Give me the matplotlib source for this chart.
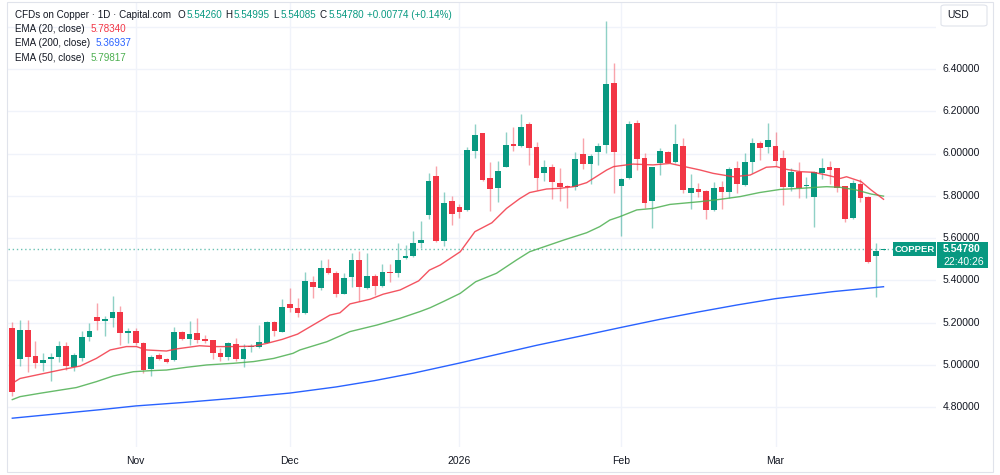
import matplotlib
matplotlib.use("Agg")
import matplotlib.pyplot as plt
from matplotlib.patches import FancyBboxPatch, Rectangle
import numpy as np

# daily candles, CFDs on Copper
opens = [5.172, 5.026, 5.165, 5.041, 5.010, 5.026, 5.035, 5.087, 4.991, 5.032,
         5.133, 5.224, 5.209, 5.220, 5.251, 5.152, 5.160, 5.101, 4.978, 5.045,
         5.027, 5.022, 5.153, 5.124, 5.149, 5.120, 5.116, 5.054, 5.035, 5.098,
         5.027, 5.083, 5.084, 5.104, 5.202, 5.157, 5.286, 5.270, 5.243, 5.392,
         5.363, 5.460, 5.433, 5.335, 5.414, 5.494, 5.362, 5.422, 5.373, 5.439,
         5.433, 5.504, 5.516, 5.578, 5.709, 5.895, 5.587, 5.775, 5.747, 5.733,
         6.013, 6.095, 5.882, 5.835, 5.936, 6.047, 6.037, 6.138, 6.029, 5.906,
         5.938, 5.862, 5.846, 5.843, 5.996, 5.950, 6.005, 6.040, 6.332, 5.848,
         5.886, 6.143, 5.980, 5.777, 5.957, 6.009, 5.958, 6.037, 5.811, 5.830,
         5.822, 5.733, 5.840, 5.819, 5.930, 5.851, 5.958, 6.051, 6.029, 6.037,
         5.977, 5.843, 5.914, 5.846, 5.796, 5.906, 5.935, 5.930, 5.846, 5.695,
         5.856, 5.793, 5.515, 5.5426]
highs = [5.204, 5.212, 5.212, 5.114, 5.054, 5.057, 5.114, 5.106, 5.054, 5.161,
         5.196, 5.291, 5.231, 5.325, 5.278, 5.172, 5.172, 5.109, 5.046, 5.057,
         5.034, 5.177, 5.161, 5.206, 5.223, 5.141, 5.117, 5.078, 5.109, 5.125,
         5.098, 5.097, 5.188, 5.209, 5.207, 5.311, 5.362, 5.314, 5.441, 5.418,
         5.496, 5.499, 5.444, 5.433, 5.527, 5.538, 5.527, 5.430, 5.475, 5.475,
         5.578, 5.567, 5.635, 5.680, 5.909, 5.942, 5.819, 5.799, 5.759, 6.032,
         6.138, 6.095, 5.958, 5.964, 6.100, 6.127, 6.187, 6.150, 6.056, 5.969,
         5.949, 5.930, 5.851, 6.005, 6.072, 5.996, 6.048, 6.627, 6.427, 5.882,
         6.154, 6.157, 6.004, 5.938, 6.024, 6.012, 6.141, 6.072, 5.903, 5.859,
         5.825, 5.867, 5.870, 5.938, 5.964, 6.001, 6.075, 6.061, 6.146, 6.103,
         6.017, 5.930, 5.961, 5.890, 5.917, 5.977, 5.966, 5.930, 5.846, 5.875,
         5.878, 5.799, 5.578, 5.54995]
lows = [4.852, 4.994, 4.967, 4.983, 4.972, 4.925, 5.015, 4.975, 4.972, 5.019,
        5.114, 5.165, 5.136, 5.180, 5.094, 5.101, 5.094, 4.959, 4.947, 5.022,
        5.008, 5.019, 5.117, 5.094, 5.101, 5.101, 5.027, 5.019, 5.022, 5.019,
        4.988, 5.062, 5.081, 5.101, 5.136, 5.155, 5.251, 5.228, 5.242, 5.317,
        5.352, 5.430, 5.322, 5.333, 5.370, 5.303, 5.358, 5.330, 5.370, 5.393,
        5.417, 5.499, 5.512, 5.551, 5.688, 5.579, 5.564, 5.662, 5.693, 5.729,
        5.980, 5.870, 5.729, 5.769, 5.934, 6.013, 6.032, 5.946, 5.827, 5.871,
        5.783, 5.777, 5.740, 5.827, 5.927, 5.854, 5.946, 6.001, 5.811, 5.611,
        5.879, 5.922, 5.744, 5.646, 5.898, 5.953, 5.953, 5.811, 5.736, 5.796,
        5.688, 5.729, 5.736, 5.788, 5.815, 5.848, 5.906, 5.969, 6.001, 5.941,
        5.756, 5.822, 5.788, 5.791, 5.654, 5.878, 5.856, 5.819, 5.677, 5.690,
        5.769, 5.483, 5.319, 5.54085]
closes = [4.873, 5.165, 5.035, 5.007, 5.022, 5.035, 5.090, 4.996, 5.048, 5.130,
          5.161, 5.206, 5.217, 5.248, 5.152, 5.161, 5.101, 4.975, 5.038, 5.029,
          5.011, 5.157, 5.120, 5.146, 5.117, 5.111, 5.057, 5.038, 5.101, 5.026,
          5.073, 5.087, 5.109, 5.202, 5.161, 5.273, 5.270, 5.246, 5.395, 5.366,
          5.456, 5.433, 5.335, 5.412, 5.496, 5.370, 5.420, 5.373, 5.437, 5.436,
          5.496, 5.516, 5.575, 5.591, 5.870, 5.587, 5.767, 5.714, 5.722, 6.017,
          6.088, 5.875, 5.832, 5.919, 6.040, 6.037, 6.127, 6.024, 5.882, 5.938,
          5.867, 5.843, 5.840, 5.974, 5.949, 5.990, 6.037, 6.329, 6.005, 5.878,
          6.140, 5.974, 5.764, 5.938, 6.013, 5.957, 6.043, 5.827, 5.838, 5.819,
          5.733, 5.835, 5.819, 5.927, 5.856, 5.961, 6.048, 6.024, 6.064, 5.966,
          5.843, 5.911, 5.835, 5.848, 5.914, 5.930, 5.922, 5.835, 5.690, 5.859,
          5.788, 5.488, 5.540, 5.5478]

# moving averages read at sample bars (bar index, value)
ema20_idx = [0, 1, 3.6, 6.2, 8.8, 10.9, 12.7, 14.8, 16.1, 17.4, 20, 21.3, 24.3, 26.1, 28.7,
             31.3, 33, 35, 37, 41.2, 42.5, 43.8, 46.4, 48.1, 50.3, 52.7, 54.1, 55.5, 58.1,
             60, 62.2, 64.1, 65.8, 67.1, 69.3, 71, 72.8, 74.5, 77.1, 78, 80.5, 83.1, 85.3,
             89.2, 90.9, 93.5, 95.7, 97.8, 99.1, 100.4, 102.2, 103.9, 105.6, 107.4, 108.2,
             110.1, 111.4, 113]
ema20_val = [4.912, 4.935, 4.955, 4.975, 4.994, 5.030, 5.070, 5.086, 5.086, 5.070, 5.065, 5.075,
             5.090, 5.086, 5.086, 5.088, 5.101, 5.120, 5.145, 5.235, 5.246, 5.288, 5.310, 5.334,
             5.354, 5.397, 5.448, 5.472, 5.535, 5.630, 5.672, 5.740, 5.786, 5.815, 5.832, 5.835,
             5.843, 5.862, 5.922, 5.938, 5.950, 5.946, 5.953, 5.922, 5.906, 5.890, 5.898, 5.935,
             5.938, 5.925, 5.914, 5.911, 5.898, 5.882, 5.890, 5.867, 5.827, 5.7834]
ema50_idx = [0, 1, 3.6, 6.2, 8.3, 10.9, 13.1, 15.7, 17.9, 20, 22.6, 25.2, 28.7, 31.3, 33.9,
             36.4, 37.3, 40.8, 43.8, 47.3, 50.3, 52.9, 54.2, 55.9, 58.1, 60.1, 62.8, 65.4,
             67.1, 71.5, 74.5, 76.2, 77.5, 78.8, 81, 83.1, 85.3, 89.2, 91.8, 94.4, 96.9,
             99.6, 102.2, 105.6, 107.4, 109.5, 111.4, 113]
ema50_val = [4.835, 4.849, 4.865, 4.880, 4.892, 4.920, 4.947, 4.967, 4.972, 4.975, 4.988,
             4.999, 5.007, 5.015, 5.030, 5.054, 5.070, 5.109, 5.157, 5.188, 5.220, 5.252,
             5.270, 5.299, 5.338, 5.393, 5.433, 5.496, 5.535, 5.590, 5.625, 5.654, 5.685,
             5.701, 5.733, 5.740, 5.759, 5.772, 5.783, 5.796, 5.815, 5.830, 5.835, 5.843,
             5.840, 5.827, 5.808, 5.79817]
ema200_idx = [0, 11.6, 16, 22.4, 29, 36, 42, 47, 52, 58, 63, 68, 74, 79, 84, 89, 94, 99,
              106.4, 113]
ema200_val = [4.747, 4.788, 4.805, 4.822, 4.842, 4.866, 4.895, 4.925, 4.960, 5.008, 5.050,
              5.092, 5.138, 5.177, 5.215, 5.250, 5.283, 5.313, 5.346, 5.36937]

month_idx = [16, 36, 58, 79, 99]
month_lbl = ["Nov", "Dec", "2026", "Feb", "Mar"]
price_ticks = [4.8, 5.0, 5.2, 5.4, 5.6, 5.8, 6.0, 6.2, 6.4]
last_price = 5.5478

UP = "#089981"
DOWN = "#F23645"
GRID = "#f0f3fa"
TXT = "#131722"

plt.rcParams['font.family'] = ['Liberation Sans', 'DejaVu Sans']

W, H = 1000, 475
fig = plt.figure(figsize=(W / 100, H / 100), dpi=100)
fig.patch.set_facecolor("white")

# plot area in pixels: x 8..936, y 3..447
ax = fig.add_axes([8 / W, 1 - 447 / H, 928 / W, 444 / H])
ax.set_facecolor("white")
for s in ax.spines.values():
    s.set_visible(False)
ax.set_xticks([])
ax.set_yticks([])


def px2price(py):
    return 6.40 - (py - 69) / 211.25


ax.set_ylim(px2price(447), px2price(3))
ax.set_xlim((8 - 12.3) / 7.71, (936 - 12.3) / 7.71)

# grid
for p in price_ticks + [6.6]:
    ax.axhline(p, color=GRID, lw=1, zorder=0)
for i in month_idx:
    ax.axvline(i, color=GRID, lw=1, zorder=0)

o = np.array(opens)
h = np.array(highs)
l = np.array(lows)
c = np.array(closes)
x = np.arange(len(o))
up = c >= o
cols = np.where(up, UP, DOWN)

ax.vlines(x, l, h, colors=cols, lw=1, alpha=0.45, zorder=2)
body_bot = np.minimum(o, c)
body_h = np.maximum(np.abs(c - o), 0.004)
ax.bar(x, body_h, bottom=body_bot, width=0.74, color=cols, zorder=3, linewidth=0)

ax.plot(ema200_idx, ema200_val, color="#2962FF", lw=1, zorder=4)
ax.plot(ema50_idx, ema50_val, color="#4CAF50", lw=1, zorder=4, alpha=0.85)
ax.plot(ema20_idx, ema20_val, color=DOWN, lw=1, zorder=4, alpha=0.85)

# last price line
ax.axhline(last_price, color=UP, lw=1, ls=(0, (1, 2)), alpha=0.6, zorder=1)

# price scale labels
ytr = ax.get_yaxis_transform()
for p in price_ticks:
    ax.text(1.0075, p, f"{p:.5f}", transform=ytr, ha="left", va="center",
            fontsize=7.5, color=TXT, clip_on=False)

# time labels
xtr = ax.get_xaxis_transform()
for i, lab in zip(month_idx, month_lbl):
    ax.text(i, -14 / 444, lab, transform=xtr, ha="center", va="center",
            fontsize=7.5, color=TXT, clip_on=False)


def fy(py):
    return 1 - py / H


# COPPER tag and price box
fig.patches.append(Rectangle((893 / W, fy(256)), 43 / W, 14 / H, transform=fig.transFigure,
                             facecolor=UP, edgecolor="none", zorder=5))
fig.text(914.5 / W, fy(249), "COPPER", ha="center", va="center", color="white",
         fontsize=6.8, fontweight="bold", zorder=6)
fig.patches.append(Rectangle((937 / W, fy(268)), 51 / W, 26 / H, transform=fig.transFigure,
                             facecolor=UP, edgecolor="none", zorder=5))
fig.text(943 / W, fy(249), "5.54780", ha="left", va="center", color="white",
         fontsize=7.5, fontweight="bold", zorder=6)
fig.text(943 / W, fy(262), "22:40:26", ha="left", va="center", color="white",
         fontsize=7.5, zorder=6)

# USD box
fig.patches.append(FancyBboxPatch((941 / W, fy(26)), 46 / W, 21 / H,
                                  boxstyle="round,pad=0,rounding_size=0.004",
                                  transform=fig.transFigure, facecolor="white",
                                  edgecolor="#e0e3eb", lw=0.8))
fig.text(947 / W, fy(15.5), "USD", ha="left", va="center", color=TXT, fontsize=7.5)

# legend header: pieces placed one after another, never overlapping
renderer = fig.canvas.get_renderer()
HFS = 7.1


def text_row(py, pieces):
    cur = 0
    for px, s, col in pieces:
        start = max(px, cur)
        t = fig.text(start / W, fy(py), s, ha="left", va="center", color=col, fontsize=HFS)
        bb = t.get_window_extent(renderer=renderer)
        cur = bb.x1 + 2


text_row(15, [(15, "CFDs on Copper \u00b7 1D \u00b7 Capital.com", TXT),
              (177, "O", TXT), (182, "5.54260", UP), (225, "H", TXT), (232, "5.54995", UP),
              (273, "L", TXT), (277, "5.54085", UP), (319, "C", TXT), (325, "5.54780", UP),
              (367, "+0.00774 (+0.14%)", UP)])
text_row(29, [(15, "EMA (20, close)", TXT), (91, "5.78340", DOWN)])
text_row(43, [(15, "EMA (200, close)", TXT), (96, "5.36937", "#2962FF")])
text_row(58, [(15, "EMA (50, close)", TXT), (91, "5.79817", "#4CAF50")])

# outer frame
fig.patches.append(Rectangle((7 / W, fy(472)), 986 / W, 470 / H, transform=fig.transFigure,
                             facecolor="none", edgecolor="#e0e3eb", lw=0.8, zorder=0))

fig.savefig("out.png", dpi=100, facecolor="white")
